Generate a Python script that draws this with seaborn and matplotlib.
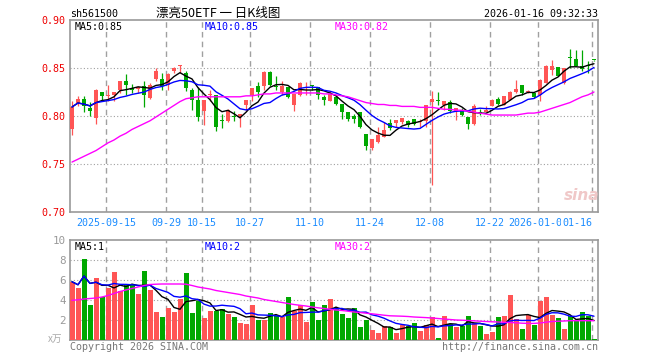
import numpy as np
import pandas as pd
import matplotlib
matplotlib.use('Agg')
import matplotlib.pyplot as plt
import seaborn as sns

#daily bars (price in yuan, volume in 万)
opens = [.7865, .8135, .8177, .8083, .7976, .8250, .8205, .8222, .8274, .8368,
         .8292, .8281, .8309, .8187, .8385, .8385, .8326, .8465, .8521, .8448,
         .8274, .8170, .8049, .8222, .8215, .7955, .7944, .7993, .7986, .8111,
         .8215, .8309, .8309, .8458, .8309, .8247, .8299, .8118, .8222, .8267,
         .8326, .8299, .8194, .8153, .8198, .8128, .8038, .8003, .8038, .7812,
         .7667, .7726, .7778, .7927, .7927, .7938, .7944, .7969, .7934, .7944,
         .8142, .8163, .8111, .8142, .8049, .8066, .7990, .7917, .8035, .8038,
         .8101, .8181, .8118, .8170, .8247, .8326, .8247, .8240, .8222, .8344,
         .8483, .8510, .8344, .8608, .8594, .8517, .8528, .8582]
highs = [.8153, .8212, .8212, .8142, .8285, .8250, .8326, .8250, .8368, .8441,
         .8337, .8309, .8361, .8344, .8500, .8448, .8448, .8507, .8535, .8472,
         .8292, .8302, .8170, .8274, .8215, .8024, .8073, .8049, .8024, .8170,
         .8292, .8350, .8472, .8465, .8413, .8368, .8299, .8229, .8351, .8351,
         .8326, .8299, .8222, .8257, .8222, .8128, .8038, .8024, .8038, .7812,
         .7760, .7885, .7934, .7969, .7962, .7976, .7962, .7969, .7972, .8118,
         .8264, .8247, .8160, .8170, .8083, .8083, .7990, .8128, .8073, .8101,
         .8177, .8198, .8212, .8257, .8372, .8326, .8274, .8240, .8385, .8535,
         .8587, .8510, .8500, .8698, .8691, .8691, .8569, .8582]
lows = [.7799, .8101, .8038, .7997, .7913, .8163, .8153, .8153, .8240, .8222,
        .8240, .8240, .8090, .8177, .8361, .8274, .8267, .8448, .8450, .8257,
        .8066, .7951, .7910, .8153, .7840, .7875, .7934, .7944, .7885, .8056,
        .8153, .8198, .8274, .8309, .8267, .8222, .8188, .8049, .8212, .8222,
        .8274, .8180, .8118, .8153, .8118, .7972, .7951, .7927, .7875, .7649,
        .7649, .7719, .7778, .7858, .7885, .7913, .7885, .7910, .7885, .7885,
        .7285, .8118, .8066, .8031, .7962, .7997, .7865, .7910, .8014, .8038,
        .8101, .8118, .8118, .8170, .8240, .8222, .8240, .8188, .8153, .8344,
        .8431, .8413, .8337, .8500, .8517, .8465, .8448, .8573]
closes = [.8094, .8177, .8101, .8049, .8274, .8205, .8222, .8250, .8368, .8326,
          .8274, .8299, .8222, .8326, .8472, .8316, .8441, .8500, .8528, .8292,
          .8170, .7986, .8170, .8233, .7882, .7951, .8059, .7990, .8024, .8170,
          .8292, .8250, .8458, .8326, .8302, .8309, .8198, .8229, .8344, .8274,
          .8309, .8222, .8163, .8229, .8125, .8038, .7969, .7969, .7885, .7691,
          .7760, .7806, .7858, .7875, .7962, .7976, .7910, .7917, .7948, .8111,
          .8177, .8160, .8160, .8049, .8083, .8014, .7920, .8108, .8031, .8066,
          .8170, .8128, .8205, .8247, .8281, .8240, .8257, .8198, .8378, .8517,
          .8517, .8420, .8500, .8604, .8524, .8490, .8524, .8580]
volumes = [5.83, 5.22, 8.14, 3.46, 6.24, 4.27, 5.25, 6.81, 4.88, 5.49,
           5.49, 4.58, 6.92, 4.98, 2.85, 2.34, 3.25, 2.85, 4.07, 6.71,
           2.75, 3.86, 2.24, 2.95, 2.95, 3.15, 2.64, 2.34, 1.73, 1.63,
           3.46, 2.03, 2.03, 2.75, 2.44, 2.34, 4.27, 2.95, 3.46, 1.83,
           3.76, 2.03, 3.46, 4.07, 3.12, 2.64, 2.24, 3.25, 1.32, 2.03,
           1.02, 0.71, 1.42, 1.32, 0.71, 1.53, 1.42, 1.73, 0.92, 1.53,
           2.34, 0.20, 2.44, 1.63, 1.32, 1.42, 2.44, 1.73, 1.42, 0.61,
           0.81, 2.34, 2.44, 4.47, 2.14, 1.12, 2.54, 1.53, 3.86, 4.27,
           2.54, 2.24, 1.12, 2.44, 1.93, 2.85, 2.44, 0.10]
#30 day averages as drawn (they need history before the window)
price_ma30 = [.752, .755, .758, .761, .764, .768, .772, .775, .779, .782,
              .786, .789, .792, .795, .799, .803, .807, .811, .815, .818,
              .819, .820, .820, .820, .820, .820, .820, .820, .820, .821,
              .821, .822, .823, .823, .824, .824, .824, .824, .824, .824,
              .824, .824, .823, .823, .822, .821, .820, .818, .816, .814,
              .813, .812, .812, .811, .811, .810, .810, .810, .809, .809,
              .809, .808, .807, .807, .806, .806, .805, .804, .803, .802,
              .801, .801, .801, .801, .801, .802, .803, .803, .804, .806,
              .808, .810, .812, .814, .817, .820, .822, .825]
vol_ma30 = [3.97, 4.02, 4.10, 4.15, 4.20, 4.30, 4.45, 4.65, 4.85, 5.00,
            5.15, 5.30, 5.45, 5.55, 5.58, 5.60, 5.60, 5.60, 5.60, 5.58,
            5.45, 5.30, 5.20, 5.10, 4.95, 4.85, 4.75, 4.65, 4.55, 4.40,
            4.30, 4.20, 4.05, 3.95, 3.85, 3.75, 3.65, 3.55, 3.47, 3.40,
            3.30, 3.22, 3.15, 3.07, 3.00, 2.95, 2.88, 2.80, 2.75, 2.68,
            2.62, 2.55, 2.48, 2.42, 2.40, 2.38, 2.35, 2.30, 2.27, 2.24,
            2.20, 2.15, 2.10, 2.05, 2.00, 1.98, 1.95, 1.92, 1.88, 1.85,
            1.82, 1.80, 1.77, 1.75, 1.72, 1.68, 1.66, 1.66, 1.70, 1.78,
            1.85, 1.88, 1.90, 1.93, 1.93, 1.93, 1.93, 1.93]

date_idx = [6, 16, 22, 30, 40, 50, 60, 70, 78, 87]
date_labels = ['2025-09-15', '09-29', '10-15', '10-27', '11-10', '11-24',
               '12-08', '12-22', '2026-01-05', '01-16']
price_ticks = [0.70, 0.75, 0.80, 0.85, 0.90]
vol_ticks = [2, 4, 6, 8, 10]

RED = '#ff5555'
GREEN = '#00a800'
GRAY = '#a0a0a0'
MONO = ['DejaVu Sans Mono']
FS = 7.2

sns.set_theme(style='white')
plt.rcParams['font.family'] = ['DejaVu Sans Mono', 'Noto Sans CJK SC']

df = pd.DataFrame({'open': opens, 'high': highs, 'low': lows,
                   'close': closes, 'vol': volumes,
                   'ma30': price_ma30, 'vma30': vol_ma30})
df['i'] = np.arange(len(df))
df['up'] = df['close'] >= df['open']
df['ma5'] = df['close'].rolling(5, min_periods=1).mean()
df['ma10'] = df['close'].rolling(10, min_periods=1).mean()
df['vma5'] = df['vol'].rolling(5, min_periods=1).mean()
df['vma10'] = df['vol'].rolling(10, min_periods=1).mean()
colors = np.where(df['up'], RED, GREEN)

W, H = 660, 360
fig = plt.figure(figsize=(6.6, 3.6), dpi=100)
ax = fig.add_axes([70 / W, 148 / H, 528 / W, 192 / H])
axv = fig.add_axes([70 / W, 20 / H, 528 / W, 100 / H])

#candles
ax.vlines(df['i'], df['low'], df['high'], colors=colors, lw=0.9, zorder=3)
body = (df['close'] - df['open']).abs().clip(lower=0.0009)
ax.bar(df['i'], body, bottom=df[['open', 'close']].min(axis=1), width=0.8,
       color=colors, linewidth=0, zorder=3)
for col, c in [('ma5', 'black'), ('ma10', '#0000ff'), ('ma30', '#ff00ff')]:
    sns.lineplot(data=df, x='i', y=col, ax=ax, color=c, lw=1, zorder=4)

#volume
axv.bar(df['i'] + 0.08, df['vol'], width=0.82, color=colors, linewidth=0,
        zorder=3)
for col, c in [('vma5', 'black'), ('vma10', '#0000ff'), ('vma30', '#ff00ff')]:
    sns.lineplot(data=df, x='i', y=col, ax=axv, color=c, lw=1, zorder=4)

xlo, xhi = -0.33, 87.67
for a in (ax, axv):
    a.set_xlim(xlo, xhi)
    a.set_xlabel('')
    a.set_ylabel('')
    for s in a.spines.values():
        s.set_color('#999999')
        s.set_linewidth(1.2)
    for d in date_idx:
        a.axvline(d - 0.3, color=GRAY, lw=1, ls=(0, (4, 3)), zorder=1)
    a.tick_params(length=0)

ax.set_ylim(0.70, 0.90)
for y in price_ticks[1:-1]:
    ax.axhline(y, color=GRAY, lw=0.8, ls=(0, (1, 2)), zorder=1)
ax.set_yticks(price_ticks)
ax.set_yticklabels(['%.2f' % p for p in price_ticks], color='#ee0000',
                   fontsize=FS, family=MONO)
ax.tick_params(axis='y', pad=3)
ax.set_xticks([d - 0.3 for d in date_idx])
ax.set_xticklabels(date_labels, color='#1a8cff', fontsize=FS, family=MONO)
ax.tick_params(axis='x', pad=4)
last = ax.get_xticklabels()[-1]
last.set_ha('right')
last.set_bbox(dict(facecolor='white', edgecolor='none', pad=0.5))

axv.set_ylim(0, 10)
for y in vol_ticks[:-1]:
    axv.axhline(y, color=GRAY, lw=0.8, ls=(0, (1, 2)), zorder=1)
axv.set_yticks(vol_ticks)
axv.set_yticklabels([str(v) for v in vol_ticks], color='#999999',
                    fontsize=FS + 0.6, family=MONO)
axv.tick_params(axis='y', pad=3)
axv.set_xticks([])

def px_text(x, y, s, **kw):
    fig.text(x / W, 1 - y / H, s, va='center', **kw)

px_text(70, 14, 'sh561500', fontsize=FS, family=MONO, color='black')
px_text(218, 13, '漂亮50ETF 一 日K线图', fontsize=9, ha='center',
        family=['Noto Sans CJK SC', 'DejaVu Sans'], color='black')
px_text(598, 14, '2026-01-16 09:32:33', fontsize=FS, family=MONO, ha='right',
        color='black')
px_text(75, 27, 'MA5:0.85', fontsize=FS, family=MONO, color='black')
px_text(205, 27, 'MA10:0.85', fontsize=FS, family=MONO, color='#0000ff')
px_text(335, 27, 'MA30:0.82', fontsize=FS, family=MONO, color='#ff00ff')
px_text(75, 247, 'MA5:1', fontsize=FS, family=MONO, color='black')
px_text(205, 247, 'MA10:2', fontsize=FS, family=MONO, color='#0000ff')
px_text(335, 247, 'MA30:2', fontsize=FS, family=MONO, color='#ff00ff')
px_text(48, 339, 'x万', fontsize=7, family=['Noto Sans CJK SC'], color='#aaaaaa')
px_text(70, 347, 'Copyright 2026 SINA.COM', fontsize=FS, family=MONO,
        color='#777777')
px_text(598, 347, 'http://finance.sina.com.cn', fontsize=FS, family=MONO,
        ha='right', color='#777777')
px_text(582, 196, 'sina', fontsize=11, style='italic', weight='bold',
        ha='center', family=['DejaVu Sans'], color='#f0c8c8')

fig.savefig('out.png', dpi=100)
